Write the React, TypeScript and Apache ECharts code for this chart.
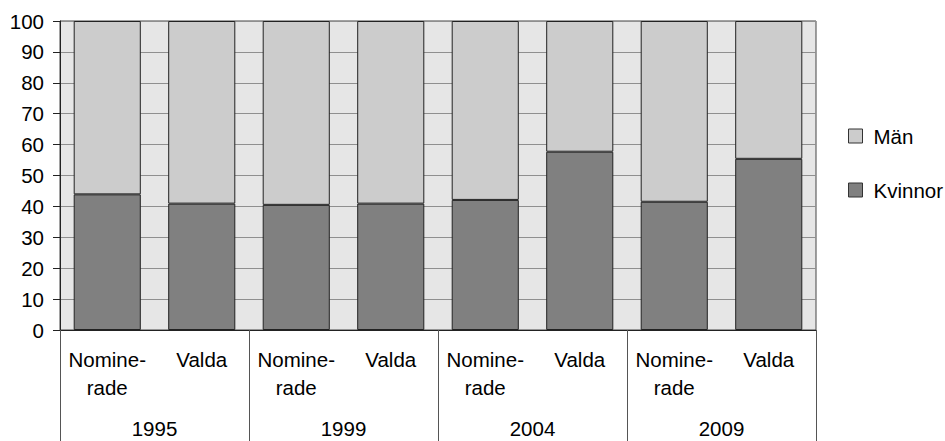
import React, { useEffect, useRef } from "react";
import * as echarts from "echarts";

const subCategories = ["Nomine-\nrade", "Valda", "Nomine-\nrade", "Valda", "Nomine-\nrade", "Valda", "Nomine-\nrade", "Valda"];
const years = ["1995", "1999", "2004", "2009"];
const kvinnor = [43.9, 40.9, 40.5, 40.9, 42.1, 57.7, 41.5, 55.4];
const man = [56.1, 59.1, 59.5, 59.1, 57.9, 42.3, 58.5, 44.6];
const yTicks = [0, 10, 20, 30, 40, 50, 60, 70, 80, 90, 100];

const FONT = "'Liberation Sans', Arial, sans-serif";
const FS = 20.5;

export default function App() {
  const ref = useRef<HTMLDivElement>(null);
  useEffect(() => {
    if (!ref.current) return;
    const chart = echarts.init(ref.current, undefined, { renderer: "svg" });
    chart.setOption({
      animation: false,
      backgroundColor: "#ffffff",
      textStyle: { fontFamily: FONT, color: "#000" },
      grid: {
        left: 60,
        right: 129,
        top: 21,
        bottom: 111,
        show: true,
        backgroundColor: "#e6e6e6",
        borderColor: "#444",
        borderWidth: 1,
      },
      legend: {
        orient: "vertical",
        left: 848,
        top: 124,
        padding: 0,
        itemWidth: 14,
        itemHeight: 14,
        itemGap: 30,
        icon: "rect",
        data: ["Män", "Kvinnor"],
        itemStyle: { borderColor: "#333", borderWidth: 1 },
        textStyle: { fontSize: FS, lineHeight: 24, fontFamily: FONT, color: "#000", padding: [0, 0, 0, 6] },
      },
      xAxis: [
        {
          type: "category",
          position: "bottom",
          data: subCategories,
          axisLine: { show: true, lineStyle: { color: "#222", width: 1 } },
          axisTick: { show: false },
          axisLabel: {
            fontSize: FS,
            fontFamily: FONT,
            color: "#000",
            lineHeight: 28,
            margin: 15,
            interval: 0,
            verticalAlign: "top",
          },
          splitLine: { show: false },
        },
        {
          type: "category",
          position: "bottom",
          data: years,
          axisLine: { show: false },
          axisTick: { show: true, length: 111, lineStyle: { color: "#555", width: 1 } },
          axisLabel: {
            fontSize: FS,
            fontFamily: FONT,
            color: "#000",
            lineHeight: 20,
            margin: 88,
            interval: 0,
            verticalAlign: "top",
          },
          splitLine: { show: false },
        },
      ],
      yAxis: {
        type: "value",
        min: yTicks[0],
        max: yTicks[yTicks.length - 1],
        interval: 10,
        axisLine: { show: true, lineStyle: { color: "#222", width: 1 } },
        axisTick: { show: true, length: 7, lineStyle: { color: "#222" } },
        axisLabel: { fontSize: FS, fontFamily: FONT, color: "#000", margin: 16 },
        splitLine: { show: true, lineStyle: { color: "#8f8f8f", width: 1 } },
      },
      series: [
        {
          name: "Kvinnor",
          type: "bar",
          stack: "total",
          xAxisIndex: 0,
          data: kvinnor,
          barCategoryGap: "29%",
          itemStyle: { color: "#808080", borderColor: "#222", borderWidth: 1 },
        },
        {
          name: "Män",
          type: "bar",
          stack: "total",
          xAxisIndex: 0,
          data: man,
          barCategoryGap: "29%",
          itemStyle: { color: "#cccccc", borderColor: "#222", borderWidth: 1 },
        },
      ],
    });
    return () => chart.dispose();
  }, []);
  return (
    <div
      ref={ref}
      style={{ position: "fixed", left: 0, top: 0, width: 945, height: 441 }}
    />
  );
}
